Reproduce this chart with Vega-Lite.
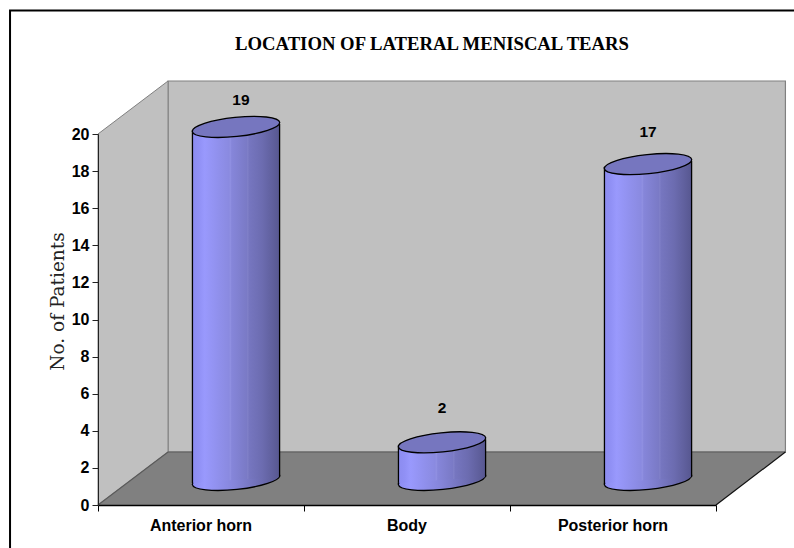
{
"$schema":"https://vega.github.io/schema/vega-lite/v6.json",
"width":618,"height":371,
"autosize":{"type":"none"},
"padding":{"left":98,"top":134,"right":78,"bottom":43},
"background":"white",
"config":{"view":{"stroke":null},"axisY":{"labelOverlap":false,"labelBound":false}},
"title":{"text":"LOCATION OF LATERAL MENISCAL TEARS","font":"Liberation Serif","fontSize":18.7,"fontWeight":"bold","color":"#000000","anchor":"middle","dx":25,"offset":-44},
"datasets":{
"bars":[{"category":"Anterior horn","index":0,"value":19},{"category":"Body","index":1,"value":2},{"category":"Posterior horn","index":2,"value":17}],
"side":[{"x":0,"low":0,"high":20},{"x":0.34,"low":2.857,"high":22.857}],
"floor":[{"x":0,"low":0,"high":0},{"x":0.34,"low":0,"high":2.857},{"x":3,"low":0,"high":2.857},{"x":3.337,"low":2.857,"high":2.857}],
"edges":[{"edge":"a","x":0.34,"y":2.857},{"edge":"a","x":3.337,"y":2.857},{"edge":"b","x":0,"y":0},{"edge":"b","x":0.34,"y":2.857},{"edge":"c","x":3,"y":0},{"edge":"c","x":3.337,"y":2.857}]
},
"layer":[
{"data":{"values":[{}]},"mark":{"type":"rect","fill":"white","stroke":"black","strokeWidth":2},
 "encoding":{"x":{"datum":-0.427,"type":"quantitative","scale":{"domain":[0,3],"nice":false,"zero":false},"axis":{"values":[0,1,2,3],"labels":false,"title":null,"grid":false,"domainColor":"black","tickColor":"black","tickSize":6,"domainWidth":1.5,"zindex":1}},"x2":{"datum":4},
 "y":{"datum":-4,"type":"quantitative","scale":{"domain":[0,20],"nice":false,"zero":false},"axis":{"values":[0,2,4,6,8,10,12,14,16,18,20],"tickCount":11,"labelOverlap":false,"grid":false,"title":"No. of Patients","titleFont":"DejaVu Serif","titleFontSize":18.5,"titleFontWeight":"normal","titleColor":"#222222","titleX":-31,"titleY":167,"labelFont":"Liberation Sans","labelFontSize":16,"labelFontWeight":"bold","labelColor":"black","domainColor":"#222222","tickColor":"#222222","tickSize":6,"labelPadding":3,"zindex":1}},"y2":{"datum":26.66}}},
{"data":{"values":[{}]},"mark":{"type":"rect","fill":"#c0c0c0","stroke":"#808080","strokeWidth":1.2},
 "encoding":{"x":{"datum":0.34,"type":"quantitative"},"x2":{"datum":3.337},"y":{"datum":2.857,"type":"quantitative"},"y2":{"datum":22.857}}},
{"data":{"name":"side"},"mark":{"type":"area","fill":"#c0c0c0","stroke":"#808080","strokeWidth":1},
 "encoding":{"x":{"field":"x","type":"quantitative"},"y":{"field":"low","type":"quantitative"},"y2":{"field":"high"}}},
{"data":{"name":"floor"},"mark":{"type":"area","fill":"#808080"},
 "encoding":{"x":{"field":"x","type":"quantitative"},"y":{"field":"low","type":"quantitative"},"y2":{"field":"high"}}},
{"data":{"name":"edges"},"transform":[{"filter":"datum.edge!='c'"}],"mark":{"type":"line","stroke":"#5a5a5a","strokeWidth":1.2},
 "encoding":{"x":{"field":"x","type":"quantitative"},"y":{"field":"y","type":"quantitative"},"detail":{"field":"edge"}}},
{"data":{"name":"edges"},"transform":[{"filter":"datum.edge=='c'"}],"mark":{"type":"line","stroke":"#111111","strokeWidth":1.2},
 "encoding":{"x":{"field":"x","type":"quantitative"},"y":{"field":"y","type":"quantitative"},"detail":{"field":"edge"}}},
{"data":{"name":"bars"},"transform":[{"calculate":"datum.index+0.67","as":"xc"}],
 "mark":{"type":"point","filled":true,"size":7640,"shape":"M-1,0.105A1.005,0.218,-6,1,1,1,-0.105A1.005,0.218,-6,1,1,-1,0.105Z","stroke":"black","strokeWidth":1.3,"opacity":1,
 "fill":{"gradient":"linear","x1":0,"x2":1,"y1":0,"y2":0,"stops":[{"offset":0,"color":"#8c8cf0"},{"offset":0.14,"color":"#9999fd"},{"offset":0.5,"color":"#8484d8"},{"offset":0.8,"color":"#6c6cb0"},{"offset":1,"color":"#575790"}]}},
 "encoding":{"x":{"field":"xc","type":"quantitative"},"y":{"datum":1.35,"type":"quantitative"}}},
{"data":{"name":"bars"},"transform":[{"calculate":"[-1,1]","as":"edge"},{"flatten":["edge"]},{"calculate":"datum.index+0.67+datum.edge*0.2115","as":"xe"},{"calculate":"datum.value+1.38+datum.edge*0.16","as":"top"},{"calculate":"1.35+datum.edge*0.16","as":"base"}],
 "layer":[
 {"mark":{"type":"area","fill":{"gradient":"linear","x1":0,"x2":1,"y1":0,"y2":0,"stops":[{"offset":0,"color":"#8c8cf0"},{"offset":0.07,"color":"#9090f5"},{"offset":0.14,"color":"#9999fd"},{"offset":0.3,"color":"#9090ec"},{"offset":0.42,"color":"#8a8ae0"},{"offset":0.435,"color":"#9090e2"},{"offset":0.45,"color":"#8686da"},{"offset":0.62,"color":"#7a7ac6"},{"offset":0.635,"color":"#8080c8"},{"offset":0.65,"color":"#7676c0"},{"offset":0.8,"color":"#6c6cb0"},{"offset":1,"color":"#575790"}]}},
 "encoding":{"x":{"field":"xe","type":"quantitative"},"y":{"field":"base","type":"quantitative"},"y2":{"field":"top"},"detail":{"field":"category"}}},
 {"mark":{"type":"rule","stroke":"black","strokeWidth":1.3},
 "encoding":{"x":{"field":"xe","type":"quantitative"},"y":{"field":"base","type":"quantitative"},"y2":{"field":"top"}}}
 ]},
{"data":{"name":"bars"},"transform":[{"calculate":"datum.index+0.67","as":"xc"},{"calculate":"datum.value+1.38","as":"top"}],
 "mark":{"type":"point","filled":true,"size":7640,"shape":"M-1,0.105A1.005,0.218,-6,1,1,1,-0.105A1.005,0.218,-6,1,1,-1,0.105Z","fill":"#7676bf","stroke":"black","strokeWidth":1.3,"opacity":1},
 "encoding":{"x":{"field":"xc","type":"quantitative"},"y":{"field":"top","type":"quantitative"}}},
{"data":{"name":"bars"},"transform":[{"calculate":"datum.index+0.67+(datum.index==0?0.024:0)","as":"xc"},{"calculate":"datum.value+1.38+1.45+(datum.index==2?0.26:0)+(datum.index==1?0.4:0)","as":"ly"}],
 "mark":{"type":"text","font":"Liberation Sans","fontSize":15.5,"fontWeight":"bold","fill":"black","baseline":"middle"},
 "encoding":{"x":{"field":"xc","type":"quantitative"},"y":{"field":"ly","type":"quantitative"},"text":{"field":"value","type":"quantitative"}}},
{"data":{"name":"bars"},"transform":[{"calculate":"datum.index+0.5","as":"xl"}],
 "mark":{"type":"text","font":"Liberation Sans","fontSize":16,"fontWeight":"bold","fill":"black","baseline":"middle","dy":21},
 "encoding":{"x":{"field":"xl","type":"quantitative"},"y":{"datum":0,"type":"quantitative"},"text":{"field":"category"}}}
]
}
